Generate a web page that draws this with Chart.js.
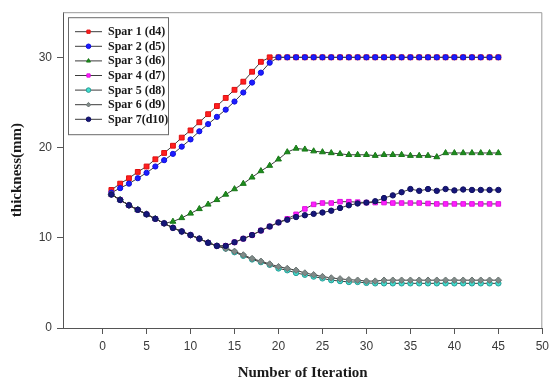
<!DOCTYPE html>
<html>
<head>
<meta charset="utf-8">
<script src="https://cdn.jsdelivr.net/npm/chart.js@4/dist/chart.umd.min.js"></script>
<style>
  html, body { margin: 0; padding: 0; background: #ffffff; }
  #wrap { width: 554px; height: 383px; }
</style>
</head>
<body>
<div id="wrap"><canvas id="c" width="554" height="383"></canvas></div>
<script>
// ---- data ----
const iterations = [1,2,3,4,5,6,7,8,9,10,11,12,13,14,15,16,17,18,19,20,21,22,23,24,25,26,27,28,29,30,31,32,33,34,35,36,37,38,39,40,41,42,43,44,45];
const seriesNames = ["Spar 1 (d4)", "Spar 2 (d5)", "Spar 3 (d6)", "Spar 4 (d7)", "Spar 5 (d8)", "Spar 6 (d9)", "Spar 7(d10)"];
const spar1 = [15.3,16.0,16.6,17.3,17.9,18.7,19.4,20.2,21.1,21.9,22.8,23.7,24.6,25.5,26.4,27.3,28.4,29.5,30.0,30.0,30.0,30.0,30.0,30.0,30.0,30.0,30.0,30.0,30.0,30.0,30.0,30.0,30.0,30.0,30.0,30.0,30.0,30.0,30.0,30.0,30.0,30.0,30.0,30.0,30.0];
const spar2 = [15.0,15.5,16.0,16.6,17.2,17.9,18.6,19.3,20.1,20.9,21.8,22.6,23.4,24.2,25.1,26.1,27.2,28.3,29.4,30.0,30.0,30.0,30.0,30.0,30.0,30.0,30.0,30.0,30.0,30.0,30.0,30.0,30.0,30.0,30.0,30.0,30.0,30.0,30.0,30.0,30.0,30.0,30.0,30.0,30.0];
const spar3 = [14.8,14.2,13.6,13.1,12.6,12.1,11.6,11.8,12.2,12.7,13.2,13.7,14.2,14.8,15.4,16.0,16.7,17.4,18.0,18.7,19.5,19.9,19.8,19.6,19.5,19.4,19.3,19.2,19.2,19.2,19.1,19.2,19.2,19.2,19.1,19.1,19.1,18.95,19.4,19.4,19.4,19.4,19.4,19.4,19.4];
const spar4 = [14.8,14.2,13.6,13.1,12.6,12.1,11.6,11.1,10.7,10.3,9.9,9.45,9.1,9.1,9.5,9.9,10.3,10.8,11.25,11.7,12.1,12.6,13.2,13.7,13.85,13.85,14.0,14.0,13.95,13.9,13.9,13.9,13.85,13.85,13.85,13.85,13.8,13.75,13.75,13.75,13.75,13.75,13.75,13.75,13.75];
const spar5 = [14.8,14.2,13.6,13.1,12.6,12.1,11.6,11.1,10.7,10.3,9.9,9.45,9.1,8.8,8.4,8.0,7.6,7.3,7.0,6.6,6.4,6.1,5.9,5.7,5.5,5.3,5.2,5.1,5.1,5.0,4.95,4.95,4.95,4.95,4.95,4.95,4.95,4.95,4.95,4.95,4.95,4.95,4.95,4.95,4.95];
const spar6 = [14.8,14.2,13.6,13.1,12.6,12.1,11.6,11.1,10.7,10.3,9.9,9.45,9.1,8.8,8.5,8.1,7.7,7.4,7.1,6.8,6.6,6.4,6.1,5.9,5.7,5.55,5.45,5.35,5.3,5.2,5.2,5.3,5.3,5.3,5.3,5.3,5.3,5.3,5.3,5.3,5.3,5.3,5.3,5.3,5.3];
const spar7 = [14.8,14.2,13.6,13.1,12.6,12.1,11.6,11.1,10.7,10.3,9.9,9.45,9.1,9.1,9.5,9.9,10.3,10.8,11.25,11.7,12.0,12.3,12.5,12.65,12.8,13.0,13.3,13.6,13.8,13.9,14.05,14.4,14.7,15.05,15.4,15.2,15.4,15.2,15.4,15.25,15.35,15.3,15.3,15.3,15.3];
const xTicks = [0,5,10,15,20,25,30,35,40,45,50];
const yTicks = [0,10,20,30];

// ---- styles ----
const seriesValues = [spar1, spar2, spar3, spar4, spar5, spar6, spar7];
const markerFill = ['#ff1f1f', '#1c1cff', '#1e8c1e', '#ff1fff', '#3fe0d0', '#808a88', '#16167a'];
const markerEdge = ['#e01010', '#1010e0', '#187818', '#e010e0', '#2a9a94', '#6a7472', '#101060'];
const markerStyle = ['rect', 'circle', 'triangle', 'rect', 'circle', 'rectRot', 'circle'];
const markerRadius = [3.4, 2.6, 3.4, 3.2, 2.7, 3.2, 2.7];
const lineColor = '#3c3c3c';

const datasets = seriesValues.map((vals, i) => ({
  label: seriesNames[i],
  data: iterations.map((x, k) => ({ x: x, y: vals[k] })),
  borderColor: lineColor,
  borderWidth: 1,
  backgroundColor: markerFill[i],
  pointBackgroundColor: markerFill[i],
  pointBorderColor: markerEdge[i],
  pointBorderWidth: 1,
  pointStyle: markerStyle[i],
  pointRadius: markerRadius[i],
  tension: 0,
  fill: false,
  order: 6 - i,
  clip: false
}));

const framePlugin = {
  id: 'frame',
  beforeDatasetsDraw(chart) {
    const { ctx, chartArea: a } = chart;
    ctx.save();
    ctx.strokeStyle = '#9a9a9a';
    ctx.lineWidth = 1;
    ctx.beginPath();
    ctx.moveTo(a.left, a.top + 0.5);
    ctx.lineTo(a.right - 0.5, a.top + 0.5);
    ctx.lineTo(a.right - 0.5, a.bottom);
    ctx.stroke();
    ctx.restore();
  }
};

const legendPlugin = {
  id: 'insideLegend',
  afterDraw(chart) {
    const { ctx, chartArea: a } = chart;
    const bx = a.left + 5, by = a.top + 5, bw = 100, bh = 117;
    ctx.save();
    ctx.fillStyle = '#ffffff';
    ctx.fillRect(bx, by, bw, bh);
    ctx.strokeStyle = '#6a6a6a';
    ctx.lineWidth = 1;
    ctx.strokeRect(bx + 0.5, by + 0.5, bw, bh);
    ctx.font = 'bold 12px "Liberation Serif", "Times New Roman", serif';
    ctx.textBaseline = 'middle';
    ctx.textAlign = 'left';
    seriesNames.forEach((name, i) => {
      const y = by + 14.5 + i * 14.6;
      ctx.strokeStyle = lineColor;
      ctx.lineWidth = 1;
      ctx.beginPath();
      ctx.moveTo(bx + 7, y);
      ctx.lineTo(bx + 34, y);
      ctx.stroke();
      ctx.fillStyle = markerFill[i];
      ctx.strokeStyle = markerEdge[i];
      Chart.helpers.drawPoint(ctx, { pointStyle: markerStyle[i], radius: 2.3, rotation: 0, borderWidth: 1 }, bx + 20.5, y);
      ctx.fillStyle = '#1a1a1a';
      ctx.fillText(name, bx + 40, y + 0.5);
    });
    ctx.restore();
  }
};

const tickFont = { family: '"Liberation Sans", Arial, sans-serif', size: 12 };
const titleFont = { family: '"Liberation Serif", "Times New Roman", serif', size: 15, weight: 'bold' };

new Chart(document.getElementById('c'), {
  type: 'line',
  data: { datasets: datasets },
  options: {
    responsive: false,
    animation: false,
    devicePixelRatio: 1,
    layout: { padding: { left: 0, right: 6, top: 10, bottom: 0 } },
    plugins: { legend: { display: false }, tooltip: { enabled: false } },
    scales: {
      x: {
        type: 'linear',
        min: -4.5,
        max: 50,
        afterBuildTicks: s => { s.ticks = xTicks.map(v => ({ value: v })); },
        afterFit: s => { s.height = 55; },
        grid: { drawOnChartArea: false, drawTicks: true, tickLength: 6, color: '#555555' },
        border: { display: true, color: '#555555', width: 1 },
        ticks: { font: tickFont, color: '#3a3a3a', padding: 5, maxRotation: 0, autoSkip: false },
        title: { display: true, text: 'Number of Iteration', font: titleFont, color: '#1a1a1a', padding: { top: 0, bottom: 1 } }
      },
      y: {
        type: 'linear',
        min: 0,
        max: 35,
        afterBuildTicks: s => { s.ticks = yTicks.map(v => ({ value: v })); },
        afterFit: s => { s.width = 63; },
        grid: { drawOnChartArea: false, drawTicks: true, tickLength: 6, color: '#555555' },
        border: { display: true, color: '#555555', width: 1 },
        ticks: { font: tickFont, color: '#3a3a3a', padding: 5 },
        title: { display: true, text: 'thickness(mm)', font: titleFont, color: '#1a1a1a', padding: { top: 8, bottom: 0 } }
      }
    }
  },
  plugins: [framePlugin, legendPlugin]
});
</script>
</body>
</html>
